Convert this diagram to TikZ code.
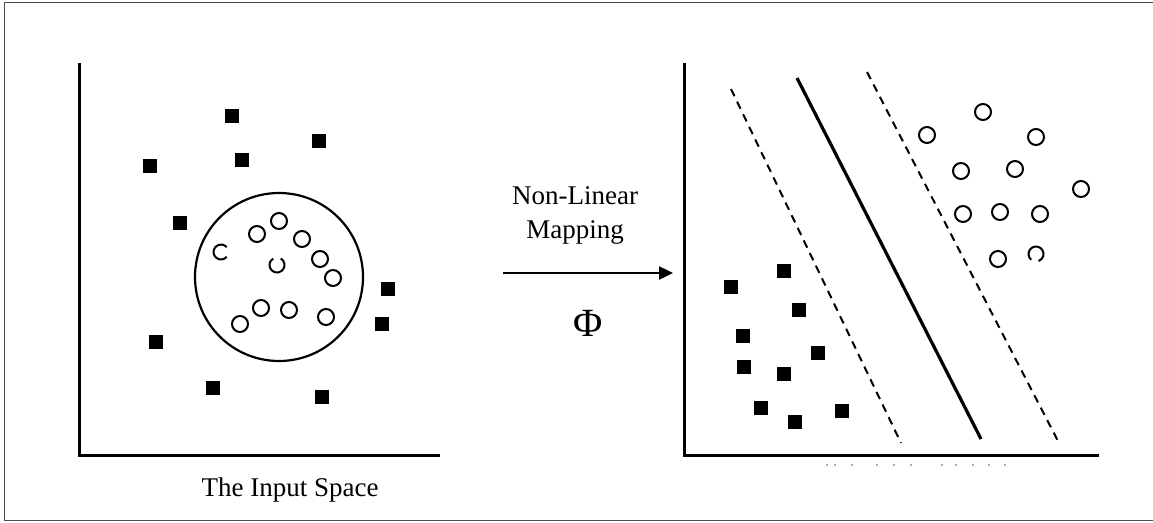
\documentclass[tikz,border=0pt]{standalone}
\usepackage{fontspec}
\setmainfont{Liberation Serif}
\usetikzlibrary{arrows.meta}
\begin{document}
\begin{tikzpicture}[x=1pt,y=-1pt,
  sq/.style={fill=black,minimum size=14pt,inner sep=0pt,outer sep=0pt},
  circ/.style={draw=black,line width=2pt,circle,minimum size=16pt,inner sep=0pt},
  pc/.style={draw=black,line width=2pt},
  ax/.style={line width=3pt},
  sep/.style={line width=3.2pt},
  margin/.style={line width=2pt,dash pattern=on 8pt off 6pt},
  lbl/.style={font=\fontsize{27}{34}\selectfont,align=center,inner sep=0pt}
]
\useasboundingbox (0,0) rectangle (1153,522);
% outer frame
\draw[black!70,line width=1.2pt] (1153,2.5) -- (4.5,2.5) -- (4.5,520.5) -- (1153,520.5);

% ---------- left panel ----------
\coordinate (ltop) at (79,63);
\coordinate (lorig) at (79,455);
\coordinate (lend) at (440,455);
\draw[ax] (ltop) -- (lorig) -- (lend);

\node[sq] (s1) at (232,116) {};
\node[sq] (s2) at (319,141) {};
\node[sq] (s3) at (242,160) {};
\node[sq] (s4) at (150,166) {};
\node[sq] (s5) at (180,223) {};
\node[sq] (s6) at (388,289) {};
\node[sq] (s7) at (382,324) {};
\node[sq] (s8) at (156,342) {};
\node[sq] (s9) at (213,388) {};
\node[sq] (s10) at (322,397) {};

\node[draw,circle,line width=2.2pt,minimum size=168pt,inner sep=0pt] (big) at (279,277) {};

\node[circ] (c1) at (257,234) {};
\node[circ] (c2) at (279,221) {};
\node[circ] (c3) at (302,239) {};
\node[circ] (c4) at (320,259) {};
\node[circ] (c5) at (333,278) {};
\node[circ] (c6) at (261,308) {};
\node[circ] (c7) at (289,310) {};
\node[circ] (c8) at (240,324) {};
\node[circ] (c9) at (326,317) {};
% partial circles
\draw[pc] (221,252) ++(40:7.5) arc[start angle=40,end angle=320,radius=7.5];
\draw[pc] (277,265) ++(300:7.5) arc[start angle=300,end angle=600,radius=7.5];

\node[lbl,anchor=base] (inspace) at (290,496) {The Input Space};

% ---------- mapping ----------
\node[lbl] (map) at (575,215) {Non-Linear\\Mapping};
\coordinate (as) at (503,273);
\coordinate (ae) at (673,273);
\draw[line width=2.4pt,-{Triangle[length=14pt,width=13pt]}] (as) -- (ae);
\node[inner sep=0pt,font=\fontsize{40}{44}\selectfont] (phi) at (588,323) {Φ};

% ---------- right panel ----------
\coordinate (rtop) at (684,63);
\coordinate (rorig) at (684,455);
\coordinate (rend) at (1099,455);
\draw[ax] (rtop) -- (rorig) -- (rend);

\coordinate (h1) at (797,78);
\coordinate (h2) at (981,439);
\draw[sep] (h1) -- (h2);
\coordinate (m1) at (731,89);
\coordinate (m2) at (901,443);
\draw[margin] (m1) -- (m2);
\coordinate (n1) at (867,72);
\coordinate (n2) at (1058,441);
\draw[margin] (n1) -- (n2);

\node[circ] (d1) at (983,112) {};
\node[circ] (d2) at (927,135) {};
\node[circ] (d3) at (1036,137) {};
\node[circ] (d4) at (961,171) {};
\node[circ] (d5) at (1015,169) {};
\node[circ] (d6) at (1081,189) {};
\node[circ] (d7) at (963,214) {};
\node[circ] (d8) at (1000,212) {};
\node[circ] (d9) at (1040,214) {};
\node[circ] (d10) at (998,259) {};
\draw[pc] (1036,254) ++(130:7.5) arc[start angle=130,end angle=430,radius=7.5];

\node[sq] (t1) at (784,271) {};
\node[sq] (t2) at (731,287) {};
\node[sq] (t3) at (799,310) {};
\node[sq] (t4) at (743,336) {};
\node[sq] (t5) at (818,353) {};
\node[sq] (t6) at (744,367) {};
\node[sq] (t7) at (784,374) {};
\node[sq] (t8) at (761,408) {};
\node[sq] (t9) at (842,411) {};
\node[sq] (t10) at (795,422) {};

% faint dots under the axis
\foreach \x in {827,835,852,877,894,911,942,956,973,989,1005}
  \fill[black!45] (\x,465) circle (1.1pt);
\end{tikzpicture}
\end{document}
